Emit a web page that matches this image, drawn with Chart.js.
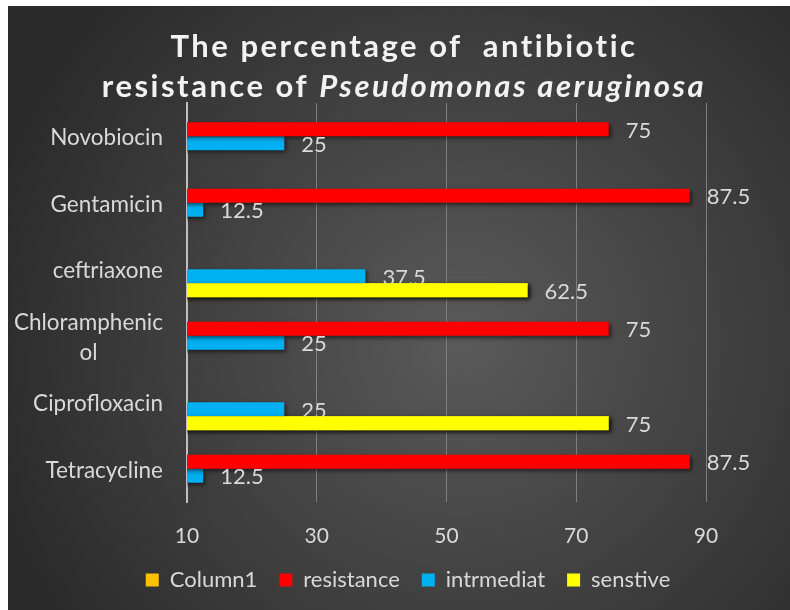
<!DOCTYPE html>
<html>
<head>
<meta charset="utf-8">
<script src="https://cdn.jsdelivr.net/npm/chart.js@4.4.0/dist/chart.umd.min.js"></script>
<style>
  html, body { margin: 0; padding: 0; background: #fff; }
  #wrap { position: absolute; left: 8px; top: 6px; width: 782px; height: 604px; }
</style>
</head>
<body>
<div id="wrap"><canvas id="bar"></canvas></div>
<script>
// data
const categories = ["Novobiocin", "Gentamicin", "ceftriaxone", "Chloramphenicol", "Ciprofloxacin", "Tetracycline"];
const column1 = [null, null, null, null, null, null];
const resistance = [75, 87.5, null, 75, null, 87.5];
const intrmediat = [25, 12.5, 37.5, 25, 25, 12.5];
const senstive = [null, null, 62.5, null, 75, null];
const xTicks = [10, 30, 50, 70, 90];

const FONT = "Lato";
const textGray = "#d9d9d9";

// dark radial background
const bgPlugin = {
  id: "bg",
  beforeDraw(chart) {
    const { ctx, width, height } = chart;
    const cx = width * 0.58, cy = height * 0.55;
    const g = ctx.createRadialGradient(cx, cy, 0, cx, cy, width * 0.62);
    g.addColorStop(0, "#5a5a5a");
    g.addColorStop(1, "#2b2b2b");
    ctx.save();
    ctx.fillStyle = g;
    ctx.fillRect(0, 0, width, height);
    ctx.restore();
  },
  // legend spans the whole width, not only the padded box
  afterLayout(chart) {
    const l = chart.legend;
    l.left = 18;
    l.right = chart.width;
    l.width = l.right - l.left;
  },
};

// title with italic species name
const titlePlugin = {
  id: "title2",
  afterDraw(chart) {
    const ctx = chart.ctx;
    const cx = chart.width / 2 + 5;
    ctx.save();
    ctx.fillStyle = "#f2f2f2";
    ctx.textBaseline = "middle";
    ctx.letterSpacing = "2.5px";
    ctx.font = "bold 31px " + FONT;
    ctx.textAlign = "center";
    ctx.fillText("The percentage of  antibiotic", cx, 41);
    const a = "resistance of ";
    const b = "Pseudomonas aeruginosa";
    const wa = ctx.measureText(a).width;
    ctx.font = "italic bold 31px " + FONT;
    const wb = ctx.measureText(b).width;
    const x = cx - (wa + wb) / 2;
    ctx.textAlign = "left";
    ctx.font = "bold 31px " + FONT;
    ctx.fillText(a, x, 81);
    ctx.font = "italic bold 31px " + FONT;
    ctx.fillText(b, x + wa, 81);
    ctx.restore();
  },
};

// category labels, wrapped lines centred as in the original
const yLabelPlugin = {
  id: "ylabels",
  afterDraw(chart) {
    const ctx = chart.ctx;
    const ys = chart.scales.y;
    const right = chart.chartArea.left - 24;
    ctx.save();
    ctx.fillStyle = textGray;
    ctx.font = "22.5px " + FONT;
    ctx.textBaseline = "middle";
    ctx.textAlign = "center";
    categories.forEach((c, i) => {
      const lines = c === "Chloramphenicol" ? ["Chloramphenic", "ol"] : [c];
      const w = Math.max(...lines.map((l) => ctx.measureText(l).width));
      const y = ys.getPixelForValue(i) + 1.5;
      lines.forEach((l, k) => {
        ctx.fillText(l, right - w / 2, y + (k - (lines.length - 1) / 2) * 30);
      });
    });
    ctx.restore();
  },
};

// bar shadow + value labels
const barPlugin = {
  id: "bars",
  beforeDatasetsDraw(chart) {
    const ctx = chart.ctx;
    ctx.save();
    ctx.shadowColor = "rgba(0,0,0,0.55)";
    ctx.shadowBlur = 4;
    ctx.shadowOffsetX = 2;
    ctx.shadowOffsetY = 2;
  },
  afterDatasetsDraw(chart) {
    const ctx = chart.ctx;
    ctx.restore();
    ctx.save();
    ctx.fillStyle = textGray;
    ctx.font = "22px " + FONT;
    ctx.textBaseline = "middle";
    ctx.textAlign = "left";
    chart.data.datasets.forEach((ds, di) => {
      chart.getDatasetMeta(di).data.forEach((el, i) => {
        const v = ds.data[i];
        if (v == null) return;
        ctx.fillText(String(v), el.x + 17, el.y + 1.5);
      });
    });
    ctx.restore();
    // yellow bars sit over the labels above them
    const area = chart.chartArea;
    ctx.save();
    ctx.beginPath();
    ctx.rect(area.left, area.top, area.right - area.left, area.bottom - area.top);
    ctx.clip();
    ctx.shadowColor = "rgba(0,0,0,0.55)";
    ctx.shadowBlur = 4;
    ctx.shadowOffsetX = 2;
    ctx.shadowOffsetY = 2;
    chart.getDatasetMeta(3).data.forEach((el, i) => {
      if (senstive[i] != null) el.draw(ctx);
    });
    ctx.restore();
  },
};

const ctx = document.getElementById("bar").getContext("2d");

const barChart = new Chart(ctx, {
  type: "bar",
  data: {
    labels: categories,
    datasets: [
      { label: "Column1", data: column1, backgroundColor: "#FFC000" },
      { label: "resistance", data: resistance, backgroundColor: "#FF0000" },
      { label: "intrmediat", data: intrmediat, backgroundColor: "#00B0F0" },
      { label: "senstive", data: senstive, backgroundColor: "#FFFF00" },
    ],
  },
  options: {
    indexAxis: "y",
    responsive: true,
    maintainAspectRatio: false,
    animation: false,
    datasets: {
      bar: { barPercentage: 1, categoryPercentage: 0.84, borderWidth: 0 },
    },
    layout: { padding: { top: 97, right: 84, left: 0, bottom: 9 } },
    scales: {
      x: {
        min: xTicks[0],
        max: xTicks[xTicks.length - 1],
        afterBuildTicks: (s) => { s.ticks = xTicks.map((v) => ({ value: v })); },
        ticks: { color: textGray, font: { family: FONT, size: 21 }, padding: 22 },
        grid: { color: "#7f7f7f", lineWidth: 1, drawTicks: false },
        border: { display: false },
        afterFit: (s) => { s.height = 45; },
      },
      y: {
        ticks: { display: false },
        grid: { display: false },
        border: { color: "#bfbfbf", width: 2 },
        afterFit: (s) => { s.width = 179; },
      },
    },
    plugins: {
      tooltip: { enabled: false },
      legend: {
        position: "bottom",
        labels: {
          color: textGray,
          font: { family: FONT, size: 22 },
          boxWidth: 13,
          boxHeight: 13,
          padding: 22,
        },
      },
    },
  },
  plugins: [bgPlugin, barPlugin, yLabelPlugin, titlePlugin],
});
</script>
</body>
</html>
